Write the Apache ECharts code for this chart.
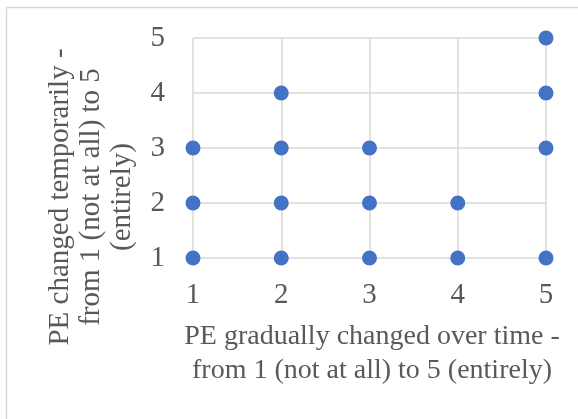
<!DOCTYPE html>
<html><head><meta charset="utf-8">
<script src="https://cdn.jsdelivr.net/npm/echarts@6/dist/echarts.min.js"></script>
<style>html,body{margin:0;padding:0;background:#fff}#c{width:578px;height:419px}</style>
</head><body><div id="c"></div>
<script>
const xValues = [1,1,1,2,2,2,2,3,3,3,4,4,5,5,5,5];
const yValues = [1,2,3,1,2,3,4,1,2,3,1,2,1,3,4,5];
const tickLabels = ['1','2','3','4','5'];
const xTitle = 'PE gradually changed over time -\nfrom 1 (not at all) to 5 (entirely)';
const yTitle = 'PE changed temporarily -\nfrom 1 (not at all) to 5\n(entirely)';

const font = '"Liberation Serif", "Times New Roman", serif';
const txt = '#595959';
const chart = echarts.init(document.getElementById('c'), null, {renderer:'canvas'});
const axisCommon = {
  type:'value', min:1, max:5, interval:1,
  axisLine:{show:false}, axisTick:{show:false},
  splitLine:{show:true, lineStyle:{color:'#d9d9d9', width:1.5}},
  axisLabel:{color:txt, fontFamily:font, fontSize:29, formatter:v=>tickLabels[v-1]}
};
chart.setOption({
  animation:false,
  grid:{left:193, right:32, top:38, bottom:161, containLabel:false},
  xAxis:Object.assign({}, axisCommon, {axisLabel:Object.assign({}, axisCommon.axisLabel, {margin:23})}),
  yAxis:Object.assign({}, axisCommon, {axisLabel:Object.assign({}, axisCommon.axisLabel, {margin:28})}),
  graphic:[
    {type:'rect', shape:{x:6.5, y:7.5, width:600, height:500}, style:{fill:'none', stroke:'#d9d9d9', lineWidth:1.5}, silent:true},
    {type:'text', x:372, y:354, style:{text:xTitle, font:'28px ' + font, fill:txt, align:'center', verticalAlign:'middle', lineHeight:34}},
    {type:'text', x:91, y:197, rotation:Math.PI/2, style:{text:yTitle, font:'29px ' + font, fill:txt, align:'center', verticalAlign:'middle', lineHeight:31}}
  ],
  series:[{
    type:'scatter', symbolSize:15,
    itemStyle:{color:'#4472C4', opacity:1},
    data:xValues.map((x,i)=>[x, yValues[i]])
  }]
});
</script></body></html>
